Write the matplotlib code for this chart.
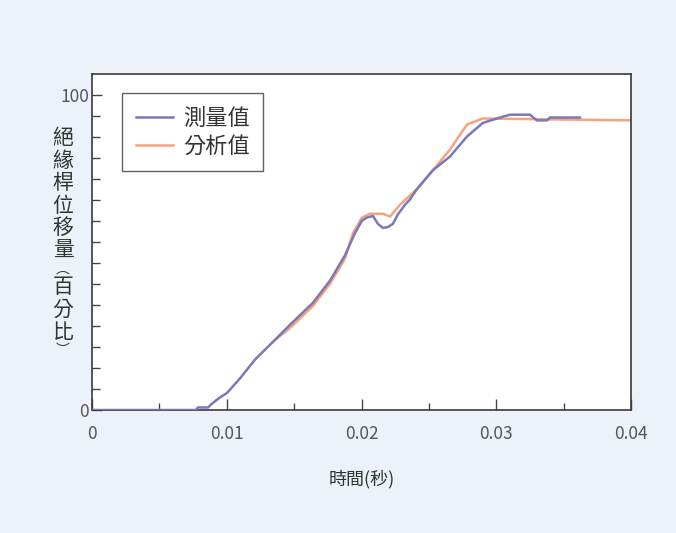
import numpy as np
import matplotlib
matplotlib.use("Agg")
import matplotlib.pyplot as plt
from matplotlib.ticker import FixedLocator, MultipleLocator

plt.rcParams["font.family"] = ["Noto Sans CJK TC", "DejaVu Sans"]

# measured displacement (percent) vs time (s)
meas_t = [0.0, 0.00772, 0.00786, 0.00861, 0.00890, 0.00950, 0.01002, 0.01098,
          0.01210, 0.01343, 0.01469, 0.01640, 0.01766, 0.01877, 0.01951, 0.02003,
          0.02040, 0.02085, 0.02122, 0.02159, 0.02196, 0.02233, 0.02270, 0.02322,
          0.02359, 0.02411, 0.02530, 0.02656, 0.02783, 0.02901, 0.03005, 0.03102,
          0.03250, 0.03302, 0.03376, 0.03398, 0.03621]
meas_v = [0.0, 0.0, 0.8, 0.8, 2.0, 4.0, 5.4, 10.0,
          16.0, 21.6, 27.0, 34.0, 41.0, 49.0, 56.0, 60.0,
          61.0, 61.5, 59.0, 57.7, 58.0, 59.0, 62.0, 65.0,
          66.7, 70.0, 76.0, 80.3, 86.7, 91.0, 92.4, 93.6,
          93.6, 91.8, 91.8, 92.7, 92.7]

# analysis displacement (percent) vs time (s)
calc_t = [0.01343, 0.01469, 0.01640, 0.01766, 0.01877, 0.01936, 0.02003, 0.02063,
          0.02159, 0.02211, 0.02285, 0.02411, 0.02530, 0.02656, 0.02783, 0.02901,
          0.04000]
calc_v = [21.6, 26.0, 33.0, 40.0, 48.0, 56.0, 61.0, 62.2,
          62.2, 61.3, 65.0, 70.0, 76.0, 82.5, 90.5, 92.4,
          91.8]

labels = ["測量值", "分析值"]
ylabel_chars = "絕緣桿位移量︵百分比︶"

W, H = 676, 533
fig = plt.figure(figsize=(W / 100, H / 100), dpi=100, facecolor="#edf1f9")
ax = fig.add_axes([92 / W, 1 - 410 / H, (631 - 92) / W, (410 - 74) / H])
ax.set_facecolor("white")

ax.plot(meas_t, meas_v, color="#7a78b8", lw=1.8, label=labels[0], zorder=3)
ax.plot(calc_t, calc_v, color="#f7a27c", lw=1.8, label=labels[1], zorder=2)

ax.set_xlim(0, 0.04)
ax.set_ylim(0, 106.5)

ax.xaxis.set_major_locator(FixedLocator([0, 0.01, 0.02, 0.03, 0.04]))
ax.xaxis.set_minor_locator(MultipleLocator(0.005))
ax.set_xticklabels(["0", "0.01", "0.02", "0.03", "0.04"])
ax.yaxis.set_major_locator(FixedLocator([0, 100]))
ax.yaxis.set_minor_locator(FixedLocator(np.linspace(0, 100, 16)))
ax.set_yticklabels(["0", "100"])

ax.tick_params(axis="both", which="both", direction="in", colors="#444444",
               labelcolor="#555555", labelsize=12.5)
ax.tick_params(axis="x", which="major", length=8, width=1, pad=11)
ax.tick_params(axis="x", which="minor", length=5, width=1)
ax.tick_params(axis="y", which="major", length=7, width=1, pad=2)
ax.tick_params(axis="y", which="minor", length=6, width=1)
ax.tick_params(top=False, right=False, which="both")
for sp in ax.spines.values():
    sp.set_color("#3a3a3a")
    sp.set_linewidth(1.2)

ax.set_xlabel("時間(秒)", fontsize=13, color="#333333", labelpad=19)

# vertical y label, one glyph at a time (pixel rows from the top)
ylabel_rows = [138, 160.5, 183, 205.5, 228, 250.5, 269, 287, 309.5, 332, 350]
ylabel_sizes = [15, 15, 15, 15, 15, 15, 10, 15, 15, 15, 10]
for ch, row, fs in zip(ylabel_chars, ylabel_rows, ylabel_sizes):
    fig.text(63 / W, 1 - row / H, ch, ha="center", va="center",
             fontsize=fs, color="#333333")

leg = ax.legend(loc="upper left", bbox_to_anchor=(0.056, 0.943), fontsize=16,
                frameon=True, fancybox=False, edgecolor="#3a3a3a",
                borderaxespad=0, handlelength=1.7, handletextpad=0.45,
                borderpad=0.6, labelspacing=0.25)
leg.get_frame().set_linewidth(1.0)
for t in leg.get_texts():
    t.set_color("#333333")

fig.savefig("out.png", dpi=100, facecolor=fig.get_facecolor())
